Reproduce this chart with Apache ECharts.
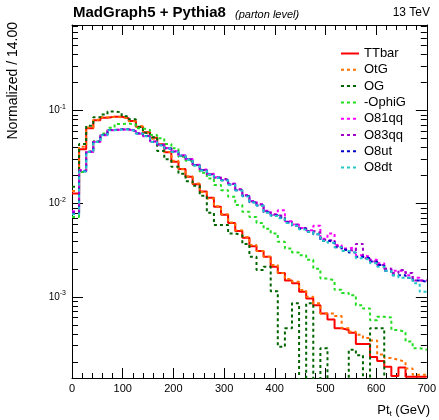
<!DOCTYPE html>
<html>
<head>
<meta charset="utf-8">
<script src="https://cdn.jsdelivr.net/npm/echarts@6/dist/echarts.min.js"></script>
<style>
  html, body { margin: 0; padding: 0; background: #fff; }
  #chart { width: 439px; height: 420px; }
</style>
</head>
<body>
<div id="chart"></div>
<script>
// 50 bins of 14 GeV from 0 to 700
const binWidth = 14;
const nBins = 50;

const seriesNames = ["TTbar", "OtG", "OG", "-OphiG", "O81qq", "O83qq", "O8ut", "O8dt"];

const ttbar = [0.0129, 0.0385, 0.0646, 0.079, 0.084, 0.086, 0.0862, 0.0828, 0.0775, 0.0673,
  0.0585, 0.0512, 0.0435, 0.0357, 0.0283, 0.0236, 0.0195, 0.0162, 0.0135, 0.0116,
  0.0093, 0.0076, 0.0062, 0.0051, 0.0043, 0.0035, 0.0031, 0.0027, 0.0021, 0.0018,
  0.0015, 0.0014, 0.00113, 0.00096, 0.00081, 0.00066, 0.00057, 0.00046, 0.00044, 0.00041,
  0.00031, 0.00031, 0.000226, 0.000204, 0.000177, 0.000141, 0.000174, 0.000138, 0.000138, 0.000138];

const otg = [0.0137, 0.041, 0.066, 0.080, 0.085, 0.086, 0.085, 0.083, 0.077, 0.068,
  0.058, 0.050, 0.044, 0.036, 0.029, 0.0235, 0.0198, 0.0165, 0.0134, 0.0114,
  0.0094, 0.0077, 0.0063, 0.0052, 0.0044, 0.0036, 0.0031, 0.0027, 0.0022, 0.0018,
  0.00155, 0.00145, 0.00118, 0.0010, 0.00085, 0.00066, 0.00066, 0.00062, 0.00046, 0.00042,
  0.00039, 0.00036, 0.00034, 0.00024, 0.00022, 0.00021, 0.0002, 0.00017, 0.000145, 0.000145];

const og = [0.0152, 0.044, 0.069, 0.085, 0.091, 0.098, 0.096, 0.087, 0.081, 0.067,
  0.058, 0.052, 0.037, 0.030, 0.025, 0.021, 0.0175, 0.0156, 0.0122, 0.0080,
  0.0059, 0.0059, 0.0048, 0.0046, 0.0037, 0.0027, 0.00194, 0.0021, 0.00115, 0.00029,
  0.00046, 0.00085, 0, 0.00085, 0, 0.00028, 0, 0, 0, 0.00027,
  0.000236, 0, 0.00046, 0.00046, 0, 0, 0, 0, 0, 0];

const ophig = [0.0072, 0.022, 0.036, 0.047, 0.057, 0.0656, 0.072, 0.073, 0.071, 0.0646,
  0.062, 0.0548, 0.0505, 0.044, 0.0394, 0.032, 0.029, 0.026, 0.0215, 0.0187,
  0.0159, 0.014, 0.0119, 0.0097, 0.0082, 0.0072, 0.0062, 0.0054, 0.0048, 0.0039,
  0.0033, 0.0030, 0.0028, 0.0025, 0.0020, 0.00157, 0.0015, 0.00119, 0.0011, 0.00104,
  0.00081, 0.00075, 0.00056, 0.00061, 0.0006, 0.00044, 0.00042, 0.00033, 0.00028, 0.00027];

const o81qq = [0.0083, 0.0230, 0.0360, 0.0460, 0.0545, 0.0615, 0.0625, 0.0628, 0.0600, 0.0565,
  0.0530, 0.0468, 0.0432, 0.0398, 0.0366, 0.0332, 0.0302, 0.0262, 0.0233, 0.0210,
  0.0193, 0.0182, 0.0165, 0.0143, 0.0124, 0.0107, 0.0099, 0.0084, 0.0077, 0.0085,
  0.0065, 0.0060, 0.0055, 0.0052, 0.0058, 0.0042, 0.0048, 0.0036, 0.0033, 0.0034,
  0.0028, 0.0027, 0.0025, 0.0023, 0.0020, 0.0019, 0.0019, 0.0017, 0.0016, 0.0015];

const o83qq = [0.0081, 0.0226, 0.0365, 0.0466, 0.0550, 0.0620, 0.0632, 0.0630, 0.0607, 0.0572,
  0.0537, 0.0466, 0.0430, 0.0396, 0.0364, 0.0330, 0.0300, 0.0261, 0.0231, 0.0208,
  0.0190, 0.0181, 0.0163, 0.0142, 0.0123, 0.0106, 0.0098, 0.0083, 0.0076, 0.0073,
  0.0064, 0.0060, 0.0055, 0.0051, 0.0049, 0.0041, 0.0040, 0.0035, 0.0032, 0.0031,
  0.0037, 0.0026, 0.0024, 0.0022, 0.0020, 0.0018, 0.00194, 0.0018, 0.0015, 0.0015];

const o8ut = [0.0078, 0.0224, 0.0362, 0.0463, 0.0548, 0.0622, 0.0630, 0.0632, 0.0605, 0.0570,
  0.0535, 0.0462, 0.0426, 0.0393, 0.0362, 0.0328, 0.0298, 0.0259, 0.0229, 0.0206,
  0.0191, 0.0179, 0.0161, 0.0140, 0.0121, 0.0104, 0.0096, 0.0081, 0.0075, 0.0071,
  0.0063, 0.0058, 0.0054, 0.0050, 0.0047, 0.0040, 0.0039, 0.0034, 0.0032, 0.0030,
  0.0027, 0.0026, 0.0024, 0.0022, 0.0019, 0.0017, 0.0017, 0.0016, 0.0015, 0.00145];

const o8dt = [0.0077, 0.0222, 0.0360, 0.0461, 0.0546, 0.0618, 0.0628, 0.0630, 0.0603, 0.0568,
  0.0533, 0.0460, 0.0425, 0.0392, 0.0360, 0.0327, 0.0297, 0.0258, 0.0228, 0.0205,
  0.0189, 0.0178, 0.0160, 0.0139, 0.0120, 0.0103, 0.0095, 0.0080, 0.0074, 0.0070,
  0.0062, 0.0058, 0.0053, 0.0050, 0.0047, 0.0040, 0.0038, 0.0034, 0.0031, 0.0030,
  0.0026, 0.0025, 0.0023, 0.0021, 0.0019, 0.0017, 0.0016, 0.0016, 0.0014, 0.00113];

const seriesValues = [ttbar, otg, og, ophig, o81qq, o83qq, o8ut, o8dt];
const seriesColors = ["#ff0000", "#ff7000", "#006400", "#22dd22", "#ff00ff", "#a000c8", "#0000cc", "#20c8c8"];

// y range (log10), major and minor tick positions
const yMin = 1.34e-4;
const yMax = 0.834;
const yMajor = [1e-3, 1e-2, 1e-1];
const yMinor = [2e-4, 3e-4, 4e-4, 5e-4, 6e-4, 7e-4, 8e-4, 9e-4,
  2e-3, 3e-3, 4e-3, 5e-3, 6e-3, 7e-3, 8e-3, 9e-3,
  2e-2, 3e-2, 4e-2, 5e-2, 6e-2, 7e-2, 8e-2, 9e-2,
  2e-1, 3e-1, 4e-1, 5e-1, 6e-1, 7e-1, 8e-1];

const FONT = "Liberation Sans, Arial, Helvetica, sans-serif";
const FLOOR = -6; // empty bins drop below the axis

const lg = v => Math.log10(v);

function steps(vals) {
    const pts = vals.map((v, i) => [i * binWidth, v > 0 ? lg(v) : FLOOR]);
    const last = vals[vals.length - 1];
    pts.push([nBins * binWidth, last > 0 ? lg(last) : FLOOR]);
    return pts;
}

const myChart = echarts.init(document.getElementById("chart"), null, {renderer: "canvas"});

const xCommon = {
    type: "value",
    min: 0,
    max: 700,
    interval: 100,
    splitLine: {show: false},
    axisLine: {show: true, onZero: false, lineStyle: {color: "#000", width: 1}},
    axisTick: {show: true, inside: true, length: 10, lineStyle: {color: "#000"}},
    minorTick: {show: true, splitNumber: 5, length: 5, lineStyle: {color: "#000"}},
};

function yAx(position, values, len, showLine, showLabel) {
    return {
        type: "value",
        position: position,
        min: lg(yMin),
        max: lg(yMax),
        splitLine: {show: false},
        axisLine: {show: showLine, onZero: false, lineStyle: {color: "#000", width: 1}},
        axisTick: {
            show: true, inside: true, length: len,
            customValues: values.map(lg),
            lineStyle: {color: "#000"}
        },
        axisLabel: showLabel ? {
            customValues: values.map(lg),
            margin: 6,
            formatter: v => "{b|10}{s|" + Math.round(v) + "}",
            rich: {
                b: {fontSize: 10, fontFamily: FONT, color: "#000"},
                s: {fontSize: 7, fontFamily: FONT, color: "#000", padding: [0, 0, 7, 0]}
            }
        } : {show: false}
    };
}

const option = {
    animation: false,
    backgroundColor: "#fff",
    grid: {left: 72, top: 25, width: 357, height: 353},
    xAxis: [
        Object.assign({}, xCommon, {
            position: "bottom",
            axisLabel: {fontSize: 11, fontFamily: FONT, color: "#000", margin: 5}
        }),
        Object.assign({}, xCommon, {position: "top", axisLabel: {show: false}})
    ],
    yAxis: [
        yAx("left", yMajor, 11, true, true),
        yAx("left", yMinor, 6, false, false),
        yAx("right", yMajor, 11, true, false),
        yAx("right", yMinor, 6, false, false)
    ],
    legend: {
        orient: "vertical",
        left: 335,
        top: 42,
        itemWidth: 18,
        itemHeight: 14,
        itemGap: 3.3,
        itemStyle: {opacity: 0},
        data: seriesNames,
        textStyle: {fontSize: 13, fontFamily: FONT, color: "#000"}
    },
    series: seriesNames.map((name, k) => ({
        name: name,
        type: "line",
        step: "end",
        symbol: "none",
        clip: true,
        xAxisIndex: 0,
        yAxisIndex: 0,
        data: steps(seriesValues[k]),
        color: seriesColors[k],
        lineStyle: {
            color: seriesColors[k],
            width: 2,
            type: k === 0 ? "solid" : [3, 3]
        }
    })),
    graphic: [
        {
            type: "text", left: 73, top: 5,
            style: {text: "MadGraph5 + Pythia8", font: "bold 15px " + FONT, fill: "#000"}
        },
        {
            type: "text", left: 235, top: 9,
            style: {text: "(parton level)", font: "italic 11px " + FONT, fill: "#000"}
        },
        {
            type: "text", right: 9, top: 7,
            style: {text: "13 TeV", font: "12px " + FONT, fill: "#000"}
        },
        {
            type: "text", right: 9, top: 404,
            style: {
                text: "Pt{t|t} (GeV)",
                font: "13px " + FONT, fill: "#000",
                rich: {t: {fontSize: 8, fontFamily: FONT, padding: [6, 0, 0, 0]}}
            }
        },
        {
            type: "text", x: 6, y: 22, rotation: Math.PI / 2,
            style: {
                text: "Normalized / 14.00", font: "14px " + FONT, fill: "#000",
                align: "right", verticalAlign: "top"
            }
        }
    ]
};

option && myChart.setOption(option);
</script>
</body>
</html>
